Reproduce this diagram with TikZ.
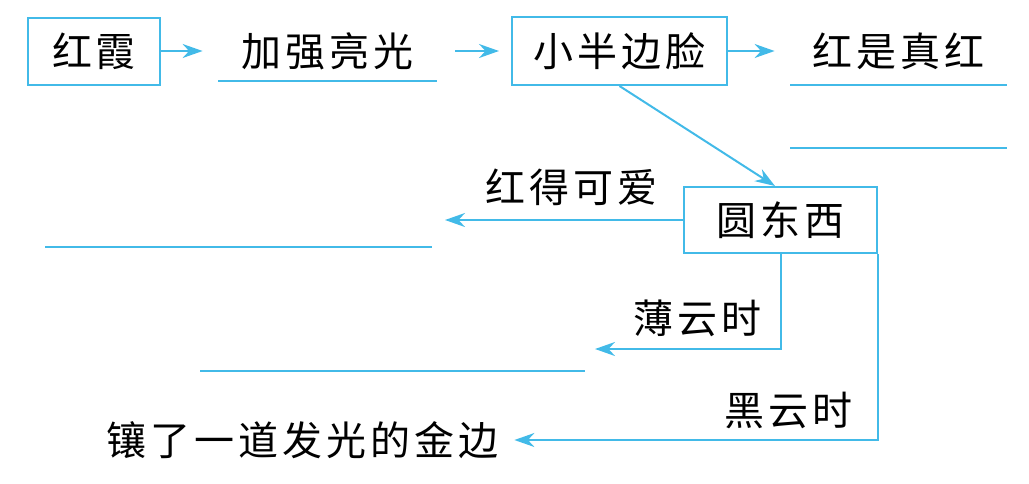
\documentclass[tikz,border=0pt]{standalone}
\usepackage{fontspec}
\newfontfamily\cjk[LetterSpace=10]{Noto Sans CJK SC}
\usetikzlibrary{arrows.meta,positioning}
\definecolor{skyline}{RGB}{66,186,232}

\begin{document}
\begin{tikzpicture}[x=0.5pt,y=-0.5pt,
    box/.style={rectangle,draw=skyline,line width=1pt,inner sep=0pt,text=black,font=\cjk\fontsize{20pt}{24pt}\selectfont},
    word/.style={inner sep=0pt,text=black,font=\cjk\fontsize{20pt}{24pt}\selectfont},
    arrow/.style={-{Stealth[length=10pt,width=7pt]},draw=skyline,line width=1pt},
    blank/.style={draw=skyline,line width=0.75pt}]
    \useasboundingbox (0,0) rectangle (1029,483);
    % top row
    \node[box,minimum width=66pt,minimum height=33.5pt] (xia) at (94,51) {红霞};
    \node[word,minimum width=109.5pt] (bright) at (327.5,51) {加强亮光};
    \node[box,minimum width=107.5pt,minimum height=34pt] (face) at (619.5,51) {小半边脸};
    \node[word,minimum width=108.5pt] (red) at (898.5,51) {红是真红};
    % round thing and its branches
    \node[box,minimum width=96.5pt,minimum height=33pt] (round) at (780.5,220) {圆东西};
    \node[word] (lovely) at (571,187) {红得可爱};
    \node[word] (thin) at (697,318) {薄云时};
    \node[word] (dark) at (788,410) {黑云时};
    \node[word,minimum width=195pt] (gold) at (302,440) {镶了一道发光的金边};
    \coordinate (loveend) at (445,220);
    \coordinate (thinend) at (595,349);
    % answer lines
    \draw[blank] (218,81) -- (437,81);
    \draw[blank] (790,85) -- (1007,85);
    \draw[blank] (790,148) -- (1007,148);
    \draw[blank] (45,247) -- (432,247);
    \draw[blank] (200,371) -- (585,371);
    % arrows
    \draw[arrow,shorten >=7.5pt] (xia) -- (bright);
    \draw[arrow,shorten <=9pt,shorten >=6pt] (bright) -- (face);
    \draw[arrow,shorten >=7.5pt] (face) -- (red);
    \draw[arrow] (face.south) -- ([xshift=-2.75pt]round.north);
    \draw[arrow] (round.west) -- (loveend);
    \draw[arrow] (round.south) |- (thinend);
    \draw[arrow,shorten >=8pt] (round.south east) |- (gold.east);
\end{tikzpicture}
\end{document}
